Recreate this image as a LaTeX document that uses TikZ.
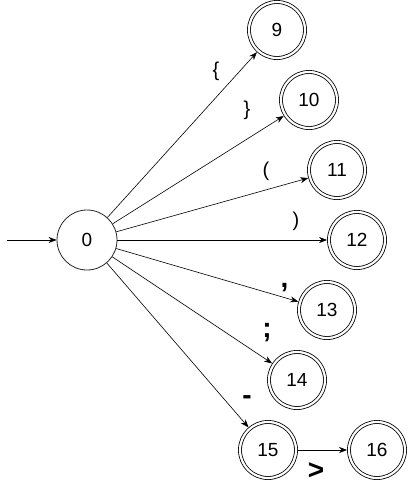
\documentclass[tikz,border=0pt]{standalone}
\usepackage{fontspec}
\setmainfont{Liberation Sans}
\usetikzlibrary{arrows.meta}
\begin{document}
\begin{tikzpicture}[x=1pt,y=-1pt,
  every node/.style={font=\fontsize{19}{22}\selectfont},
  st/.style={draw=black!85, circle, line width=0.8pt, minimum size=60pt, inner sep=0pt, outer sep=0.4pt},
  acc/.style={draw=black, circle, line width=0.8pt, double, double distance=2.2pt, minimum size=56pt, inner sep=0pt, outer sep=1.9pt},
  lab/.style={font=\fontsize{20}{22}\selectfont, inner sep=0pt},
  blab/.style={font=\fontsize{28}{30}\selectfont\bfseries, inner sep=0pt},
  arr/.style={-{Stealth[length=8pt,width=6pt,inset=2.5pt]}, line width=0.6pt}
]
\useasboundingbox (0,0) rectangle (409,488);
\node[st] (n0) at (87,240) {0};
\node[acc] (n9) at (277,30) {9};
\node[acc] (n10) at (309,100) {10};
\node[acc] (n11) at (337,170) {11};
\node[acc] (n12) at (357,240) {12};
\node[acc] (n13) at (327,310) {13};
\node[acc] (n14) at (297,380) {14};
\node[acc] (n15) at (268,450) {15};
\node[acc] (n16) at (377,450) {16};
\coordinate (start) at (7,240);
\draw[arr] (start) -- (n0);
\draw[arr] (n0) -- (n9);
\draw[arr] (n0) -- (n10);
\draw[arr] (n0) -- (n11);
\draw[arr] (n0) -- (n12);
\draw[arr] (n0) -- (n13);
\draw[arr] (n0) -- (n14);
\draw[arr] (n0) -- (n15);
\draw[arr] (n15) -- (n16);
\node[lab] (l9) at (216,71) {\{};
\node[lab] (l10) at (247,110) {\}};
\node[lab] (l11) at (266,171) {(};
\node[lab] (l12) at (296,221) {)};
\node[blab] (l13) at (284.5,288) {,};
\node[blab] (l14) at (267,333) {;};
\node[blab] (l15) at (247,400) {-};
\node[blab] (l16) at (316,471) {>};
\end{tikzpicture}
\end{document}
